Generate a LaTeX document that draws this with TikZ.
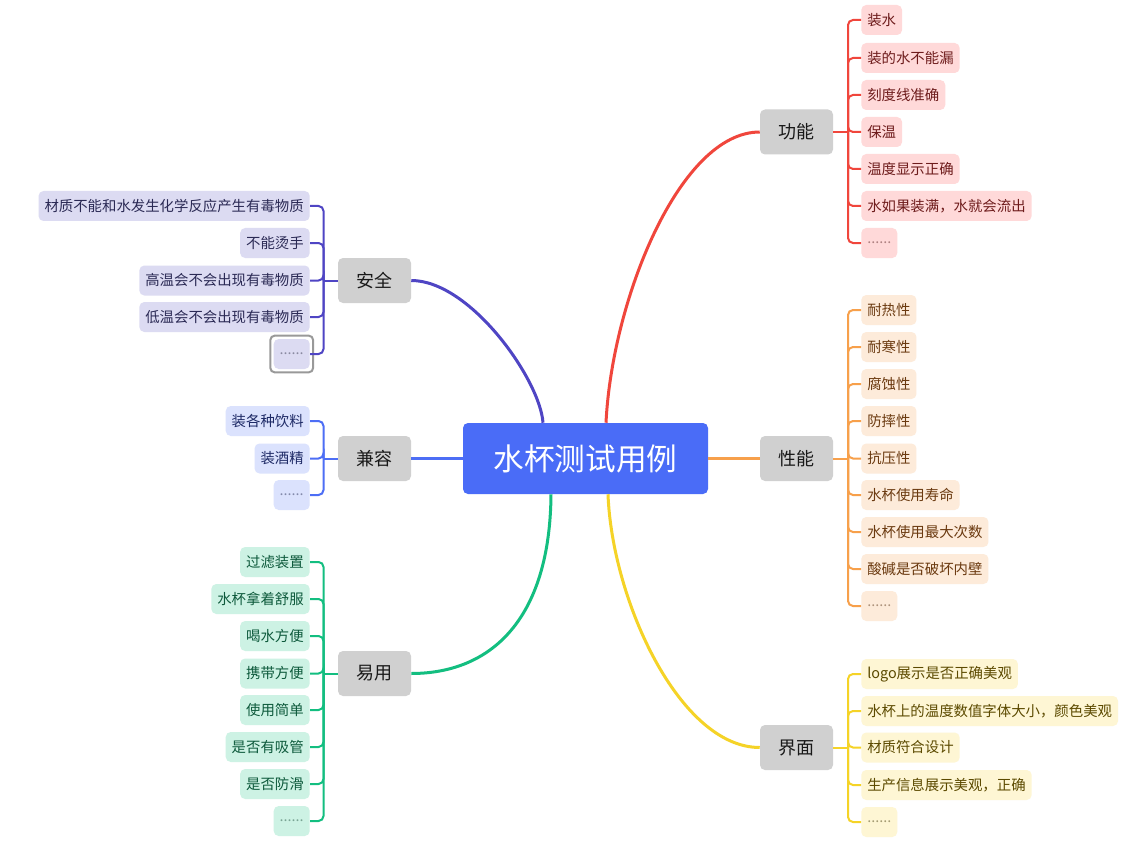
\documentclass[tikz,border=0pt]{standalone}
\usepackage{fontspec}
\newfontfamily\cjk{Noto Sans CJK SC}
\usetikzlibrary{calc}
\definecolor{rootc}{HTML}{4A6CF7}
\definecolor{mainc}{HTML}{D0D0D0}
\definecolor{rln}{HTML}{F0463C}\definecolor{rbg}{HTML}{FFD9D9}\definecolor{rtx}{HTML}{6E1C1C}
\definecolor{oln}{HTML}{F7A04B}\definecolor{obg}{HTML}{FDEBDA}\definecolor{otx}{HTML}{6B3A10}
\definecolor{yln}{HTML}{F5D327}\definecolor{ybg}{HTML}{FEF6D4}\definecolor{ytx}{HTML}{5C4A00}
\definecolor{iln}{HTML}{4F45C4}\definecolor{ibg}{HTML}{DCDBF2}\definecolor{itx}{HTML}{2B2A55}
\definecolor{bln}{HTML}{4D6EF5}\definecolor{bbg}{HTML}{DBE2FD}\definecolor{btx}{HTML}{1E2A66}
\definecolor{gln}{HTML}{13BE80}\definecolor{gbg}{HTML}{CDF2E4}\definecolor{gtx}{HTML}{0E5A3C}
\tikzset{
  leaf/.style={rounded corners=3.75pt, minimum height=22.5pt, inner xsep=4.5pt, inner ysep=0pt, font=\cjk\fontsize{10.8}{13}\selectfont},
  dotsbox/.style={leaf, minimum width=27pt},
  rleaf/.style={leaf, fill=rbg, text=rtx}, rdots/.style={dotsbox, fill=rbg, text=rtx!55},
  oleaf/.style={leaf, fill=obg, text=otx}, odots/.style={dotsbox, fill=obg, text=otx!55},
  yleaf/.style={leaf, fill=ybg, text=ytx}, ydots/.style={dotsbox, fill=ybg, text=ytx!55},
  ileaf/.style={leaf, fill=ibg, text=itx}, idots/.style={dotsbox, fill=ibg, text=itx!55},
  bleaf/.style={leaf, fill=bbg, text=btx}, bdots/.style={dotsbox, fill=bbg, text=btx!55},
  gleaf/.style={leaf, fill=gbg, text=gtx}, gdots/.style={dotsbox, fill=gbg, text=gtx!55},
  mainbox/.style={fill=mainc, rounded corners=3.75pt, minimum width=54.75pt, minimum height=33.75pt, inner sep=0pt, text=black!90, font=\cjk\fontsize{13.5}{16}\selectfont},
  rootbox/.style={fill=rootc, rounded corners=3.75pt, minimum width=183.75pt, minimum height=53.25pt, inner sep=0pt, text=white, font=\cjk\fontsize{23}{27}\selectfont},
  thin/.style={line width=1.5pt, rounded corners=3.75pt},
  thick/.style={line width=2.25pt},
}
\begin{document}
\begin{tikzpicture}[x=0.75pt,y=-0.75pt]
\useasboundingbox[fill=white] (0,0) rectangle (1146,845);
% root and main nodes
\node[rootbox] (root) at (585.5,458.5) {水杯测试用例};
\node[mainbox] (gn) at (796.5,132) {功能};
\node[mainbox] (xn) at (796.5,458.5) {性能};
\node[mainbox] (jm) at (796.5,747.5) {界面};
\node[mainbox] (aq) at (374.5,280.5) {安全};
\node[mainbox] (jr) at (374.5,458.5) {兼容};
\node[mainbox] (yy) at (374.5,673.5) {易用};
% main connectors
\draw[thick, rln] ($(root.north)+(20.5,0)$) .. controls +(6,-123) and +(-80,0) .. (gn.west);
\draw[thick, yln] ($(root.south)+(22.5,0)$) .. controls +(4,106) and +(-80,0) .. (jm.west);
\draw[thick, iln] ($(root.north)+(-42.5,0)$) .. controls +(-3,-43) and +(59,0) .. (aq.east);
\draw[thick, gln] ($(root.south)+(-34.5,0)$) .. controls +(-1,126) and +(79,0) .. (yy.east);
\draw[thick, oln] (root.east) -- (xn.west);
\draw[thick, bln] (root.west) -- (jr.east);
% 功能 leaves
\node[rleaf, anchor=west] (g1) at (861,20) {装水};
\node[rleaf, anchor=west] (g2) at (861,58) {装的水不能漏};
\node[rleaf, anchor=west] (g3) at (861,95) {刻度线准确};
\node[rleaf, anchor=west] (g4) at (861,132) {保温};
\node[rleaf, anchor=west] (g5) at (861,169) {温度显示正确};
\node[rleaf, anchor=west] (g6) at (861,206) {水如果装满，水就会流出};
\node[rdots, anchor=west] (g7) at (861,243) {......};
\coordinate (gj) at (848,132);
\draw[thin, rln] (gn.east) -- (gj);
\foreach \n in {g1,g2,g3,g4,g5,g6,g7} \draw[thin, rln] (gj) |- (\n.west);
% 性能 leaves
\node[oleaf, anchor=west] (x1) at (861,310) {耐热性};
\node[oleaf, anchor=west] (x2) at (861,347) {耐寒性};
\node[oleaf, anchor=west] (x3) at (861,384) {腐蚀性};
\node[oleaf, anchor=west] (x4) at (861,421) {防摔性};
\node[oleaf, anchor=west] (x5) at (861,458.5) {抗压性};
\node[oleaf, anchor=west] (x6) at (861,495) {水杯使用寿命};
\node[oleaf, anchor=west] (x7) at (861,532) {水杯使用最大次数};
\node[oleaf, anchor=west] (x8) at (861,569) {酸碱是否破坏内壁};
\node[odots, anchor=west] (x9) at (861,606) {......};
\coordinate (xj) at (848,458.5);
\draw[thin, oln] (xn.east) -- (xj);
\foreach \n in {x1,x2,x3,x4,x5,x6,x7,x8,x9} \draw[thin, oln] (xj) |- (\n.west);
% 界面 leaves
\node[yleaf, anchor=west] (m1) at (861,674) {logo展示是否正确美观};
\node[yleaf, anchor=west] (m2) at (861,711) {水杯上的温度数值字体大小，颜色美观};
\node[yleaf, anchor=west] (m3) at (861,747.5) {材质符合设计};
\node[yleaf, anchor=west] (m4) at (861,785) {生产信息展示美观，正确};
\node[ydots, anchor=west] (m5) at (861,822) {......};
\coordinate (mj) at (848,747.5);
\draw[thin, yln] (jm.east) -- (mj);
\foreach \n in {m1,m2,m3,m4,m5} \draw[thin, yln] (mj) |- (\n.west);
% 安全 leaves
\node[ileaf, anchor=east] (s1) at (310,206) {材质不能和水发生化学反应产生有毒物质};
\node[ileaf, anchor=east] (s2) at (310,243) {不能烫手};
\node[ileaf, anchor=east] (s3) at (310,280.5) {高温会不会出现有毒物质};
\node[ileaf, anchor=east] (s4) at (310,317) {低温会不会出现有毒物质};
\node[idots, anchor=east] (s5) at (310,354) {......};
\draw[line width=1.5pt, black!40, rounded corners=3pt] ($(s5.south west)+(-3,3)$) rectangle ($(s5.north east)+(3,-3)$);
\coordinate (sj) at (323.5,280.5);
\draw[thin, iln] (aq.west) -- (sj);
\foreach \n in {s1,s2,s3,s4,s5} \draw[thin, iln] (sj) |- (\n.east);
% 兼容 leaves
\node[bleaf, anchor=east] (c1) at (310,421) {装各种饮料};
\node[bleaf, anchor=east] (c2) at (310,458.5) {装酒精};
\node[bdots, anchor=east] (c3) at (310,495) {......};
\coordinate (cj) at (323.5,458.5);
\draw[thin, bln] (jr.west) -- (cj);
\foreach \n in {c1,c2,c3} \draw[thin, bln] (cj) |- (\n.east);
% 易用 leaves
\node[gleaf, anchor=east] (e1) at (310,562) {过滤装置};
\node[gleaf, anchor=east] (e2) at (310,599) {水杯拿着舒服};
\node[gleaf, anchor=east] (e3) at (310,636) {喝水方便};
\node[gleaf, anchor=east] (e4) at (310,673.5) {携带方便};
\node[gleaf, anchor=east] (e5) at (310,710) {使用简单};
\node[gleaf, anchor=east] (e6) at (310,747) {是否有吸管};
\node[gleaf, anchor=east] (e7) at (310,784) {是否防滑};
\node[gdots, anchor=east] (e8) at (310,821) {......};
\coordinate (ej) at (323.5,673.5);
\draw[thin, gln] (yy.west) -- (ej);
\foreach \n in {e1,e2,e3,e4,e5,e6,e7,e8} \draw[thin, gln] (ej) |- (\n.east);
\end{tikzpicture}
\end{document}
